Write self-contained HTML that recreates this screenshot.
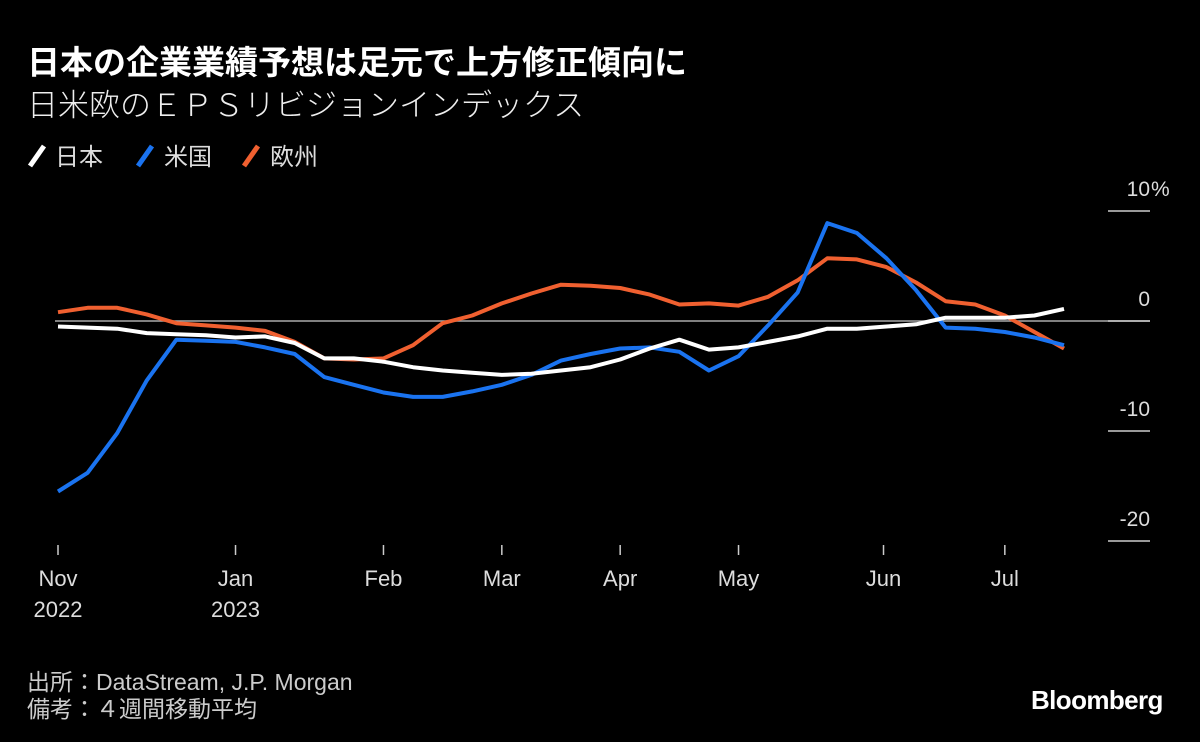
<!DOCTYPE html>
<html><head><meta charset="utf-8"><style>
body{margin:0;background:#000;width:1200px;height:742px;overflow:hidden;font-family:"Liberation Sans","Noto Sans CJK JP",sans-serif;color:#fff}
.t{position:absolute;white-space:nowrap}
</style></head><body>
<div class="t" style="left:27px;top:36px;font-size:33px;font-weight:bold;">日本の企業業績予想は足元で上方修正傾向に</div>
<div class="t" style="left:27px;top:80px;font-size:31px;font-weight:300;color:#eee">日米欧のＥＰＳリビジョンインデックス</div>
<svg width="1200" height="742" style="position:absolute;left:0;top:0" id="chart">
<g id="legend" font-size="24" fill="#ddd">
<line x1="30" y1="166" x2="44" y2="146" stroke="#fff" stroke-width="5"/><text x="55" y="165">日本</text>
<line x1="138" y1="166" x2="152" y2="146" stroke="#1a73f0" stroke-width="5"/><text x="164" y="165">米国</text>
<line x1="244" y1="166" x2="258" y2="146" stroke="#f06030" stroke-width="5"/><text x="270" y="165">欧州</text>
</g>
<g id="axes"></g><g id="series"></g>
</svg>
<div class="t" style="left:27px;top:663px;font-size:23px;color:#ccc">出所：DataStream, J.P. Morgan</div>
<div class="t" style="left:27px;top:690px;font-size:23px;color:#ccc">備考：４週間移動平均</div>
<div class="t" style="left:1031px;top:685px;font-size:26px;font-weight:bold;letter-spacing:-0.6px">Bloomberg</div>
<script>
const japan=[-0.5,-0.6,-0.7,-1.1,-1.2,-1.3,-1.5,-1.4,-2.0,-3.4,-3.4,-3.7,-4.2,-4.5,-4.7,-4.9,-4.8,-4.5,-4.2,-3.5,-2.5,-1.7,-2.6,-2.4,-1.9,-1.4,-0.7,-0.7,-0.5,-0.3,0.3,0.3,0.3,0.5,1.1];
const us=[-15.5,-13.8,-10.2,-5.4,-1.7,-1.8,-1.9,-2.4,-3.0,-5.1,-5.8,-6.5,-6.9,-6.9,-6.4,-5.8,-4.9,-3.6,-3.0,-2.5,-2.4,-2.8,-4.5,-3.2,-0.4,2.6,8.9,8.0,5.7,2.8,-0.6,-0.7,-1.0,-1.5,-2.2];
const europe=[0.8,1.2,1.2,0.6,-0.2,-0.4,-0.6,-0.9,-1.9,-3.4,-3.5,-3.4,-2.2,-0.2,0.5,1.6,2.5,3.3,3.2,3.0,2.4,1.5,1.6,1.4,2.2,3.7,5.7,5.6,4.9,3.5,1.8,1.5,0.5,-1.0,-2.5];
const yTicks=[10,0,-10,-20];
const yTickLabels=["10","0","-10","-20"];
const monthIdx=[0,6,11,15,19,23,27.9,32];
const monthLabels=["Nov","Jan","Feb","Mar","Apr","May","Jun","Jul"];
const yearLabels=["2022","2023","","","","","",""];
const NS="http://www.w3.org/2000/svg";
const xS=i=>58+i*(1064-58)/(japan.length-1);
const yS=v=>321-v*11;
const ax=document.getElementById('axes'),se=document.getElementById('series');
function mk(tag,at,parent){const e=document.createElementNS(NS,tag);for(const k in at)e.setAttribute(k,at[k]);parent.appendChild(e);return e;}
yTicks.forEach((v,k)=>{
  if(v===0){const z=mk('line',{x1:55,x2:1150,y1:yS(0),y2:yS(0),stroke:'#aaa','stroke-width':1.5},ax);
  
  }
  const l=mk('line',{x1:1108,x2:1150,y1:yS(v),y2:yS(v),stroke:'#ccc','stroke-width':1.5},ax);
  
  
  const t=mk('text',{x:1150,y:yS(v)-15,'text-anchor':'end','font-size':21,fill:'#ddd'},ax);
  t.textContent=yTickLabels[k];
  
  
  if(k===0){const p=mk('text',{x:1151,y:yS(v)-15,'font-size':21,fill:'#ddd'},ax);
  p.textContent='%';
  
  }
});
monthIdx.forEach((m,k)=>{
  const x=xS(m);
  const l=mk('line',{x1:x,x2:x,y1:545,y2:555,stroke:'#ccc','stroke-width':1.5},ax);
  
  
  const t=mk('text',{x:x,y:586,'text-anchor':'middle','font-size':22,fill:'#ddd'},ax);
  t.textContent=monthLabels[k];
  
  
  if(yearLabels[k]){const y=mk('text',{x:x,y:617,'text-anchor':'middle','font-size':22,fill:'#ddd'},ax);
  y.textContent=yearLabels[k];
  
  }
});
[[europe,'#f06030','europe-line'],[us,'#1a73f0','us-line'],[japan,'#fff','japan-line']].forEach(([d,c,n])=>{
  const p=mk('polyline',{points:d.map((v,i)=>xS(i)+','+yS(v)).join(' '),fill:'none',stroke:c,'stroke-width':4,'stroke-linejoin':'round'},se);
  
  
});
</script>
</body></html>
